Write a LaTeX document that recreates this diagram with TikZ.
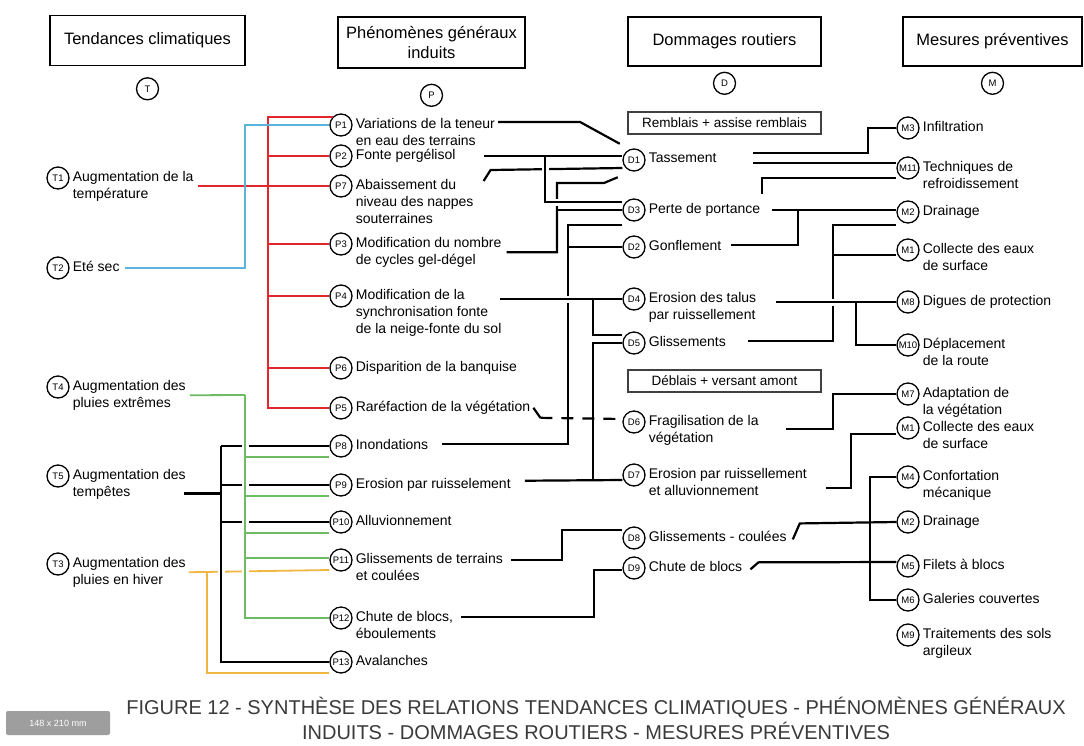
\documentclass[tikz,border=0pt]{standalone}
\usepackage{fontspec}
\setmainfont{Liberation Sans}
\usepackage{tikz}
\usetikzlibrary{positioning}
\definecolor{linkred}{HTML}{E3262B}
\definecolor{linkblue}{HTML}{5BB4D9}
\definecolor{linkgreen}{HTML}{6DBB63}
\definecolor{linkyellow}{HTML}{F0B642}
\definecolor{captiongray}{HTML}{3A3A3A}

\newcommand{\Entry}[5]{%
  \node[Circ] (#1) at (#3,#4) {#2};
  \node[Lbl] (#1t) at ([xshift=3pt,yshift=7pt]#1.east) {#5};}

\begin{document}
\begin{tikzpicture}[x=1pt,y=-1pt]
\tikzset{Circ/.style={circle, draw, line width=1.3pt, minimum size=22pt, inner sep=0pt, font=\fontsize{9.5}{9.5}\selectfont}}
\tikzset{Lbl/.style={anchor=north west, align=left, inner sep=0pt, font=\fontsize{14}{17}\selectfont}}
\tikzset{Head/.style={draw, line width=1.3pt, align=center, inner sep=0pt, font=\fontsize{16.5}{20}\selectfont}}
\tikzset{SubBox/.style={draw=black!75, line width=1.5pt, minimum width=193pt, minimum height=22pt, inner sep=0pt, font=\fontsize{13.5}{14}\selectfont}}
\tikzset{BlackLink/.style={draw=black, line width=2.2pt},
  RedLink/.style={draw=linkred, line width=1.7pt},
  BlueLink/.style={draw=linkblue, line width=1.8pt},
  GreenLink/.style={draw=linkgreen, line width=1.8pt},
  YellowLink/.style={draw=linkyellow, line width=1.8pt},
  Gap/.style={preaction={draw=white, line width=7pt}}}
\fill[white] (0,0) rectangle (1084,745);
\useasboundingbox (0,0) rectangle (1084,745);

\node[Head, minimum width=195pt, minimum height=50pt] (hT) at (147.5,40.5) {Tendances climatiques};
\node[Head, minimum width=187pt, minimum height=51pt] (hP) at (431.5,42.5) {Phénomènes généraux\\induits};
\node[Head, minimum width=193pt, minimum height=49pt] (hD) at (724.5,41.5) {Dommages routiers};
\node[Head, minimum width=179pt, minimum height=49pt] (hM) at (992.5,41.5) {Mesures préventives};
\node[Circ, below=11pt of hT] (cT) {T};
\node[Circ, below=15pt of hP] (cP) {P};
\node[Circ, below=5pt of hD] (cD) {D};
\node[Circ, below=5pt of hM] (cM) {M};
\node[SubBox] (rb) at (724.5,123) {Remblais + assise remblais};
\node[SubBox] (db) at (724.5,381) {Déblais + versant amont};

\Entry{t1}{T1}{58}{178}{Augmentation de la\\température}
\Entry{t2}{T2}{58}{268}{Eté sec}
\Entry{t4}{T4}{58}{387}{Augmentation des\\pluies extrêmes}
\Entry{t5}{T5}{58}{476}{Augmentation des\\tempêtes}
\Entry{t3}{T3}{58}{564}{Augmentation des\\pluies en hiver}

\Entry{p1}{P1}{341}{125}{Variations de la teneur\\en eau des terrains}
\Entry{p2}{P2}{341}{156}{Fonte pergélisol}
\Entry{p7}{P7}{341}{186}{Abaissement du\\niveau des nappes\\souterraines}
\Entry{p3}{P3}{341}{244}{Modification du nombre\\de cycles gel-dégel}
\Entry{p4}{P4}{341}{296}{Modification de la\\synchronisation fonte\\de la neige-fonte du sol}
\Entry{p6}{P6}{341}{368}{Disparition de la banquise}
\Entry{p5}{P5}{341}{408}{Raréfaction de la végétation}
\Entry{p8}{P8}{341}{446}{Inondations}
\Entry{p9}{P9}{341}{485}{Erosion par ruisselement}
\Entry{p10}{P10}{341}{522}{Alluvionnement}
\Entry{p11}{P11}{341}{560}{Glissements de terrains\\et coulées}
\Entry{p12}{P12}{341}{618}{Chute de blocs,\\éboulements}
\Entry{p13}{P13}{341}{662}{Avalanches}

\Entry{d1}{D1}{634}{160}{Tassement}
\Entry{d3}{D3}{634}{210}{Perte de portance}
\Entry{d2}{D2}{634}{247}{Gonflement}
\Entry{d4}{D4}{634}{299}{Erosion des talus\\par ruissellement}
\Entry{d5}{D5}{634}{343}{Glissements}
\Entry{d6}{D6}{634}{422}{Fragilisation de la\\végétation}
\Entry{d7}{D7}{634}{475}{Erosion par ruissellement\\et alluvionnement}
\Entry{d8}{D8}{634}{538}{Glissements - coulées}
\Entry{d9}{D9}{634}{568}{Chute de blocs}

\Entry{m3}{M3}{908}{128}{Infiltration}
\Entry{m11}{M11}{908}{168}{Techniques de\\refroidissement}
\Entry{m2}{M2}{908}{212}{Drainage}
\Entry{m1}{M1}{908}{250}{Collecte des eaux\\de surface}
\Entry{m8}{M8}{908}{302}{Digues de protection}
\Entry{m10}{M10}{908}{345}{Déplacement\\de la route}
\Entry{m7}{M7}{908}{394}{Adaptation de\\la végétation}
\Entry{m1b}{M1}{908}{428}{Collecte des eaux\\de surface}
\Entry{m4}{M4}{908}{477}{Confortation\\mécanique}
\Entry{m2b}{M2}{908}{522}{Drainage}
\Entry{m5}{M5}{908}{566}{Filets à blocs}
\Entry{m6}{M6}{908}{600}{Galeries couvertes}
\Entry{m9}{M9}{908}{635}{Traitements des sols\\argileux}

\draw[RedLink] (p1.north west) -| (268,0 |- p5) -- (p5.west);
\foreach \n in {p2,p3,p4,p6} \draw[RedLink] (268,0 |- \n) -- (\n.west);
\draw[RedLink] ([xshift=4pt]t1t.east |- p7) -- (p7.west);
\draw[BlueLink] ([xshift=5pt]t2t.east |- t2) -| (245,0 |- p1) -- (p1.west);

\draw[YellowLink] ([xshift=3pt]t3t.east) -- ([yshift=-10pt]p11.west);
\draw[BlackLink,Gap] (221,0 |- p8) |- (p13.west);
\draw[BlackLink] ([xshift=-2pt,yshift=6pt]t5t.south east) coordinate (a5) -- (a5 -| 221,0);
\foreach \n in {p8,p9,p10} \draw[BlackLink] (221,0 |- \n) -- (\n.west);
\draw[GreenLink,Gap] (245,395) |- (p12.west);
\draw[GreenLink] ([xshift=4pt]t4t.east) -- (245,395);
\draw[GreenLink] (245,457) -- ([yshift=-11pt]p8.west);
\draw[GreenLink] (245,496) -- ([yshift=-11pt]p9.west);
\draw[GreenLink] (245,533) -- ([yshift=-11pt]p10.west);
\draw[GreenLink] (245,558) -- ([yshift=2pt]p11.west);
\draw[YellowLink] (207,572) |- ([yshift=-11pt]p13.west);

\draw[BlackLink] ([xshift=5pt]p3t.east) -| (557,183) -- (604,183) -- ([xshift=-8pt,yshift=-9pt]d1.south west);
\draw[BlackLink] (557,0 |- d3) -- (d3.west);
\draw[BlackLink] ([xshift=10pt,yshift=-2pt]p7t.north east) -- ++(7,-11) -- ([yshift=-8pt]d1.west);
\draw[BlackLink,Gap] (545,0 |- p2t.east) |- ([yshift=8pt]d3.west);
\draw[BlackLink] ([xshift=28pt]p2t.east) -- (d1.west |- p2t.east);
\draw[BlackLink] ([xshift=3pt,yshift=-4pt]p1t.north east) -- ++(82,0) -- ([xshift=-6pt,yshift=8pt]d1.north west);
\draw[BlackLink] ([xshift=14pt]p8t.east) -| (568,225) -- ([yshift=-15pt]d3.west);
\draw[BlackLink] (568,0 |- d2) -- (d2.west);
\draw[BlackLink,Gap] ([xshift=-2pt]p4t.east |- d4) -- (d4.west);
\draw[BlackLink] (593,0 |- d4) |- ([yshift=8pt]d5.west);
\draw[BlackLink] ([xshift=14pt,yshift=4pt]p9t.east) -- ([yshift=-5pt]d7.west);
\draw[BlackLink] (593,480) |- (d5.west);
\draw[BlackLink] ([xshift=3pt]p5t.east) -- ++(7,10) coordinate (c5);
\draw[BlackLink,dash pattern=on 12pt off 9pt] (c5) -- ([yshift=3pt]d6.west);
\draw[BlackLink] ([xshift=8pt,yshift=-7pt]p11t.north east) -| (562,530) -- ([yshift=8pt]d8.west);
\draw[BlackLink] ([xshift=8pt,yshift=-6pt]p12t.north east) -| (594,570) -- ([yshift=-2pt]d9.west);

\draw[BlackLink] ([xshift=36pt]d1t.north east) -| (868,0 |- m3) -- (m3.west);
\draw[BlackLink] ([xshift=36pt,yshift=-10pt]d1t.north east) -- ([yshift=5pt]m11.west);
\draw[BlackLink] ([xshift=2pt,yshift=9pt]d3t.north east) |- ([yshift=-10pt]m11.west);
\draw[BlackLink] ([xshift=12pt]d3t.east) -- (m2.west |- d3t.east);
\draw[BlackLink] ([xshift=10pt]d2t.east) -| (798,0 |- d3t.east);
\draw[BlackLink] ([xshift=22pt]d5t.east) -| (833,225) -- ([yshift=-13pt]m2.west);
\draw[BlackLink] (833,255) -- ([yshift=-5pt]m1.west);
\draw[BlackLink,Gap] ([xshift=20pt,yshift=-10pt]d4t.north east) -- (m8.west);
\draw[BlackLink] (856,302) |- (m10.west);
\draw[BlackLink] ([xshift=27pt,yshift=-14pt]d6t.north east) -| (833,0 |- m7) -- (m7.west);
\draw[BlackLink] ([xshift=19pt,yshift=-20pt]d7t.north east) -| (851,434) -- ([yshift=-6pt]m1b.west);
\draw[BlackLink] ([xshift=6pt,yshift=-3pt]d8t.east) -- ++(7,-16) -- (m2b.west);
\draw[BlackLink] ([xshift=8pt,yshift=-3pt]d9t.east) -- ++(8,-7) -- ([yshift=4pt]m5.west);
\draw[BlackLink] (m4.west) -- (870,0 |- m4) |- (m6.west);

\node[font=\fontsize{20}{25}\selectfont, text=captiongray, align=center, inner sep=0pt] (cap) at (596,718) {FIGURE 12 - SYNTHÈSE DES RELATIONS TENDANCES CLIMATIQUES - PHÉNOMÈNES GÉNÉRAUX\\INDUITS - DOMMAGES ROUTIERS - MESURES PRÉVENTIVES};
\node[fill=black!38, rounded corners=2pt, text=white, font=\fontsize{9}{9}\selectfont, minimum width=104pt, minimum height=24pt] (tag) at (58,723) {148 x 210 mm};
\end{tikzpicture}
\end{document}
